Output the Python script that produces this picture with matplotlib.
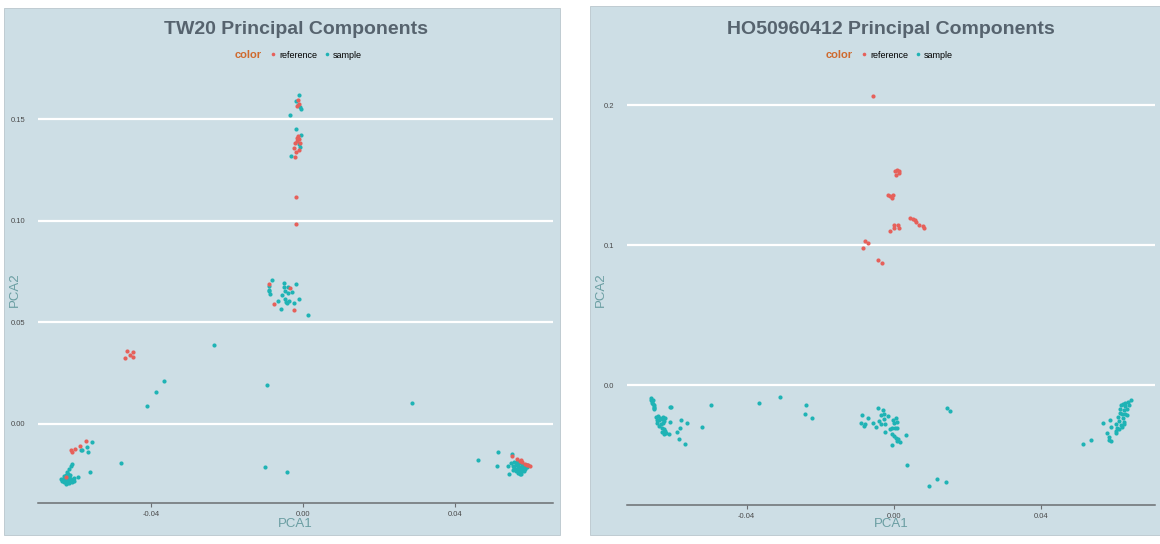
import matplotlib
matplotlib.use("Agg")
import matplotlib.pyplot as plt
from matplotlib.patches import Rectangle
from matplotlib.lines import Line2D

# TW20 - reference individuals
tw_ref_x = [-0.0013, -0.0011, -0.0015, -0.0013, -0.0011, -0.0016, -0.0008, -0.0022, -0.0024, -0.0020,
            -0.0011, -0.0022, -0.0016, -0.0019, -0.0018,
            -0.0089, -0.0034, -0.0077, -0.0025,
            -0.0463, -0.0448, -0.0456, -0.0448, -0.0469,
            -0.0572, -0.0586, -0.0601, -0.0610, -0.0609, -0.0625,
            0.0551, 0.0562, 0.0570, 0.0577, 0.0588, 0.0596, 0.0574, 0.0583, 0.0592]
tw_ref_y = [0.1593, 0.1577, 0.1565, 0.1417, 0.1402, 0.1392, 0.1382, 0.1382, 0.1358, 0.1340,
            0.1348, 0.1316, 0.1407, 0.1119, 0.0985,
            0.0691, 0.0668, 0.0590, 0.0560,
            0.0361, 0.0354, 0.0338, 0.0330, 0.0324,
            -0.0082, -0.0109, -0.0126, -0.0127, -0.0136, -0.0261,
            -0.0157, -0.0172, -0.0181, -0.0188, -0.0201, -0.0206, -0.0180, -0.0196, -0.0204]

# TW20 - samples
tw_smp_x = [-0.0011, -0.0018, -0.0013, -0.0009, -0.0006, -0.0035, -0.0020, -0.0006, -0.0011, -0.0009, -0.0033,
            -0.0081, -0.0089, -0.0091, -0.0088, -0.0050, -0.0050, -0.0040, -0.0019, -0.0047, -0.0040,
            -0.0029, -0.0056, -0.0047, -0.0044, -0.0038, -0.0042, -0.0066, -0.0012, -0.0023, -0.0058,
            0.0013, -0.0089,
            -0.0234, -0.0365, -0.0386, -0.0412, -0.0096, 0.0286, -0.0479, -0.0101, -0.0042,
            -0.0556, -0.0569, -0.0585, -0.0581, -0.0565, -0.0562, -0.0608, -0.0611, -0.0615, -0.0620,
            -0.0602, -0.0592, -0.0636,
            -0.0630, -0.0625, -0.0620, -0.0615, -0.0628, -0.0622, -0.0616, -0.0610, -0.0632, -0.0626,
            -0.0619, -0.0612, -0.0606, -0.0629, -0.0622, -0.0615, -0.0608, -0.0624, -0.0617, -0.0618,
            -0.0613, -0.0634, -0.0603, -0.0620,
            0.0461, 0.0512, 0.0509, 0.0549, 0.0543, 0.0574, 0.0539,
            0.0548, 0.0555, 0.0562, 0.0568, 0.0575, 0.0582, 0.0588, 0.0552, 0.0559, 0.0566,
            0.0573, 0.0580, 0.0556, 0.0563, 0.0570, 0.0577, 0.0584, 0.0560, 0.0567, 0.0574,
            0.0581, 0.0565, 0.0571, 0.0553, 0.0590]
tw_smp_y = [0.1618, 0.1588, 0.1569, 0.1560, 0.1552, 0.1523, 0.1451, 0.1425, 0.1377, 0.1364, 0.1320,
            0.0707, 0.0681, 0.0662, 0.0639, 0.0695, 0.0675, 0.0675, 0.0691, 0.0653, 0.0646,
            0.0649, 0.0636, 0.0616, 0.0600, 0.0603, 0.0596, 0.0603, 0.0613, 0.0595, 0.0567,
            0.0534, 0.0655,
            0.0389, 0.0212, 0.0155, 0.0090, 0.0193, 0.0103, -0.0193, -0.0212, -0.0237,
            -0.0090, -0.0114, -0.0129, -0.0131, -0.0139, -0.0237, -0.0196, -0.0209, -0.0224, -0.0237,
            -0.0265, -0.0263, -0.0273,
            -0.0255, -0.0250, -0.0258, -0.0262, -0.0265, -0.0270, -0.0268, -0.0272, -0.0276, -0.0280,
            -0.0278, -0.0282, -0.0276, -0.0286, -0.0289, -0.0288, -0.0285, -0.0294, -0.0293, -0.0245,
            -0.0252, -0.0280, -0.0280, -0.0284,
            -0.0180, -0.0139, -0.0207, -0.0150, -0.0245, -0.0249, -0.0207,
            -0.0195, -0.0190, -0.0188, -0.0193, -0.0200, -0.0205, -0.0212, -0.0205, -0.0202, -0.0208,
            -0.0212, -0.0216, -0.0215, -0.0220, -0.0222, -0.0226, -0.0222, -0.0230, -0.0234, -0.0236,
            -0.0232, -0.0242, -0.0245, -0.0225, -0.0200]

# HO50960412 - reference individuals
ho_ref_x = [-0.0057, 0.0004, 0.0010, 0.0013, 0.0007, 0.0014, -0.0017, -0.0011, -0.0005, -0.0001,
            0.0044, 0.0051, 0.0057, 0.0060, 0.0069, 0.0080, 0.0082, 0.0002, 0.0002, 0.0012,
            0.0014, -0.0010, -0.0078, -0.0071, -0.0084, -0.0044, -0.0033]
ho_ref_y = [0.2071, 0.1529, 0.1536, 0.1519, 0.1505, 0.1531, 0.1357, 0.1350, 0.1341, 0.1362,
            0.1195, 0.1191, 0.1184, 0.1169, 0.1143, 0.1136, 0.1126, 0.1143, 0.1124, 0.1143,
            0.1124, 0.1105, 0.1034, 0.1016, 0.0984, 0.0893, 0.0876]

# HO50960412 - samples
ho_smp_x = [-0.0660, -0.0659, -0.0657, -0.0656, -0.0654, -0.0653, -0.0652, -0.0651, -0.0653, -0.0655,
            -0.0609, -0.0605,
            -0.0647, -0.0641, -0.0635, -0.0627, -0.0621, -0.0645, -0.0638, -0.0631, -0.0625, -0.0644,
            -0.0634, -0.0628, -0.0637, -0.0631, -0.0626, -0.0622, -0.0618, -0.0612, -0.0630, -0.0626,
            -0.0609, -0.0579, -0.0562, -0.0581, -0.0588, -0.0584, -0.0568, -0.0522, -0.0498,
            -0.0367, -0.0308, -0.0239, -0.0241, -0.0222,
            -0.0042, -0.0029, -0.0027, -0.0036, -0.0017, -0.0086, -0.0069, -0.0090, -0.0079, -0.0082,
            -0.0056, -0.0049, -0.0036, -0.0024, -0.0027, -0.0041, -0.0003, 0.0005, 0.0008, 0.0001,
            0.0003, 0.0010, -0.0009, -0.0005, 0.0000, 0.0005, 0.0011, 0.0008, 0.0017, 0.0033,
            -0.0006, -0.0025, -0.0005,
            0.0037, 0.0095, 0.0117, 0.0142, 0.0144, 0.0152,
            0.0645, 0.0637, 0.0630, 0.0623, 0.0617, 0.0630, 0.0640, 0.0615, 0.0625, 0.0635,
            0.0620, 0.0630, 0.0610, 0.0623, 0.0613, 0.0625, 0.0605, 0.0617, 0.0608, 0.0620,
            0.0605, 0.0613, 0.0603, 0.0627, 0.0633, 0.0615,
            0.0569, 0.0589, 0.0591, 0.0579, 0.0584, 0.0586, 0.0590, 0.0536, 0.0515]
ho_smp_y = [-0.0094, -0.0106, -0.0115, -0.0125, -0.0134, -0.0144, -0.0154, -0.0163, -0.0173, -0.0110,
            -0.0156, -0.0156,
            -0.0228, -0.0221, -0.0233, -0.0228, -0.0238, -0.0247, -0.0252, -0.0245, -0.0257, -0.0269,
            -0.0276, -0.0271, -0.0293, -0.0305, -0.0317, -0.0329, -0.0341, -0.0353, -0.0334, -0.0348,
            -0.0264, -0.0252, -0.0271, -0.0305, -0.0334, -0.0389, -0.0420, -0.0303, -0.0144,
            -0.0130, -0.0084, -0.0144, -0.0209, -0.0238,
            -0.0166, -0.0180, -0.0209, -0.0216, -0.0223, -0.0214, -0.0238, -0.0269, -0.0281, -0.0293,
            -0.0274, -0.0300, -0.0281, -0.0281, -0.0245, -0.0257, -0.0252, -0.0233, -0.0264, -0.0269,
            -0.0305, -0.0305, -0.0312, -0.0348, -0.0365, -0.0377, -0.0382, -0.0401, -0.0406, -0.0358,
            -0.0430, -0.0334, -0.0305,
            -0.0569, -0.0718, -0.0672, -0.0694, -0.0163, -0.0185,
            -0.0108, -0.0118, -0.0125, -0.0132, -0.0142, -0.0149, -0.0142, -0.0173, -0.0180, -0.0173,
            -0.0209, -0.0204, -0.0228, -0.0233, -0.0257, -0.0262, -0.0281, -0.0286, -0.0305, -0.0300,
            -0.0329, -0.0317, -0.0341, -0.0281, -0.0216, -0.0197,
            -0.0274, -0.0247, -0.0298, -0.0341, -0.0372, -0.0391, -0.0401, -0.0394, -0.0423]

tw_yticks = [0.00, 0.05, 0.10, 0.15]
tw_ylabels = ["0.00", "0.05", "0.10", "0.15"]
ho_yticks = [0.0, 0.1, 0.2]
ho_ylabels = ["0.0", "0.1", "0.2"]
xticks = [-0.04, 0.00, 0.04]
xlabels = ["-0.04", "0.00", "0.04"]

BG = "#cddee5"
RED = "#e6605a"
TEAL = "#1fb3b5"
TITLE = "#56636e"
LEGEND_TITLE = "#cf6a2e"
AXLAB = "#6a9ea2"

plt.rcParams['font.family'] = ['Liberation Sans', 'DejaVu Sans']

W, H = 1160, 544
fig = plt.figure(figsize=(W / 100, H / 100), dpi=100)
fig.patch.set_facecolor("white")


def px_box(x0, y0, x1, y1):
    # pixel box (top-left origin) -> figure fraction [left, bottom, width, height]
    return [x0 / W, 1 - y1 / H, (x1 - x0) / W, (y1 - y0) / H]


def panel(box, axbox, title, leg_x, rx, ry, sx, sy, yticks, ylabels, ylab_x):
    l, b, w, h = px_box(*box)
    fig.patches.append(Rectangle((l, b), w, h, transform=fig.transFigure,
                                 facecolor=BG, edgecolor="#b9c6cc", lw=0.6, zorder=-1))
    ax = fig.add_axes(px_box(*axbox))
    ax.set_facecolor("none")
    ax.scatter(sx, sy, s=9, color=TEAL, linewidths=0, zorder=3)
    ax.scatter(rx, ry, s=9, color=RED, linewidths=0, zorder=3)
    ax.margins(0.05)
    ax.set_yticks(yticks)
    ax.set_yticklabels(ylabels)
    ax.set_xticks(xticks)
    ax.set_xticklabels(xlabels)
    ax.grid(axis="y", color="white", lw=1.6, zorder=1)
    ax.set_axisbelow(True)
    for side in ["top", "right", "left"]:
        ax.spines[side].set_visible(False)
    ax.spines["bottom"].set_color("#6b6f72")
    ax.spines["bottom"].set_linewidth(1.1)
    ax.tick_params(axis="y", length=0, labelsize=5.5, labelcolor="#4a4a4a", pad=9)
    ax.tick_params(axis="x", length=3, color="#6b6f72", labelsize=5.5, labelcolor="#4a4a4a", pad=3)

    cx = (axbox[0] + axbox[2]) / 2
    fig.text(cx / W, 1 - 29 / H, title, ha="center", va="center",
             fontsize=14, fontweight="bold", color=TITLE)
    fig.text(cx / W, 1 - 524 / H, "PCA1", ha="center", va="center", fontsize=9.5, color=AXLAB)
    fig.text(ylab_x / W, 1 - 290 / H, "PCA2", ha="center", va="center", fontsize=9.5,
             color=AXLAB, rotation=90)

    # legend: title on the left, keys in one row
    fig.text((leg_x - 54) / W, 1 - 55 / H, "color", ha="right", va="center",
             fontsize=8, fontweight="bold", color=LEGEND_TITLE)
    handles = [Line2D([], [], ls="none", marker="o", ms=2.6, color=RED, mew=0),
               Line2D([], [], ls="none", marker="o", ms=2.6, color=TEAL, mew=0)]
    fig.legend(handles, ["reference", "sample"], ncol=2, loc="center",
               bbox_to_anchor=(leg_x / W, 1 - 55 / H), frameon=False, fontsize=6.5,
               handlelength=0.8, handletextpad=0.3, columnspacing=0.6, borderpad=0)
    return ax


panel((4, 8, 560, 535), (38, 76, 553, 503), "TW20 Principal Components", 316,
      tw_ref_x, tw_ref_y, tw_smp_x, tw_smp_y, tw_yticks, tw_ylabels, 15)
panel((590, 6, 1160, 535), (627, 76, 1155, 505), "HO50960412 Principal Components", 907,
      ho_ref_x, ho_ref_y, ho_smp_x, ho_smp_y, ho_yticks, ho_ylabels, 601)

fig.savefig("out.png", dpi=100)
